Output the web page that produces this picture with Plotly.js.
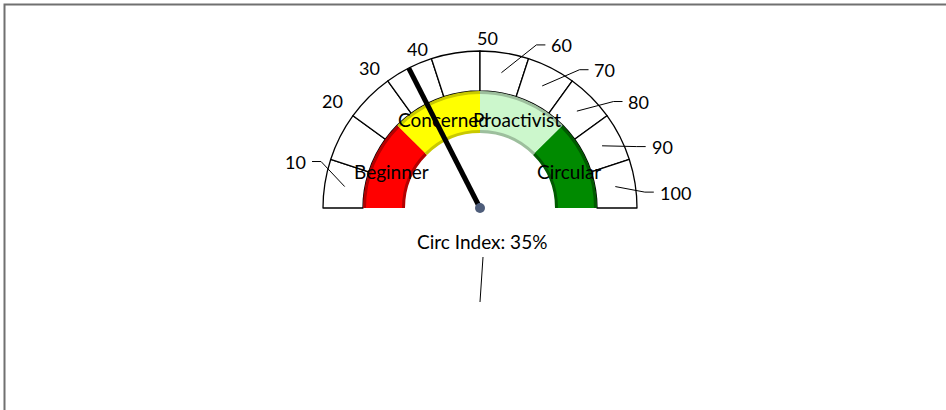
<!DOCTYPE html>
<html><head><meta charset="utf-8">
<script src="https://cdn.plot.ly/plotly-3.0.1.min.js"></script>
<style>html,body{margin:0;padding:0;background:#fff}#chart{width:946px;height:410px}</style>
</head><body><div id="chart"></div>
<script>
// ---------- data ----------
const scaleTicks = [10, 20, 30, 40, 50, 60, 70, 80, 90, 100];
const scaleSteps = [10, 10, 10, 10, 10, 10, 10, 10, 10, 10];
const bandNames  = ['Beginner', 'Concerned', 'Proactivist', 'Circular'];
const bandSizes  = [25, 25, 25, 25];
const indexValue = 35;
const indexLabel = 'Circ Index: 35%';

// ---------- layout / style ----------
const W = 946, H = 410, CX = 480, CY = 208;      // gauge centre (px from left / top)
const R_OUT = 157, R_MID = 117, R_IN = 75;
const FONT = 'Lato, "Open Sans", sans-serif';
const NUM_SIZE = 18, TXT_SIZE = 19;
const bandColors = ['#FF0000', '#FFFF00', '#CCF7CC', '#008A00'];
const bandEdge   = ['#B40000', '#C9C900', '#9DBF9D', '#005A00'];
// outer label placement: [angle deg, radius px], leader flag
const tickPlace  = [[166,190],[144,182],[128.2,178],[111.6,171],[87.6,170],[63.3,182],[47.8,186],[33.7,191],[18.5,192],[4.5,196]];
const tickLeader = [1,0,0,0,0,1,1,1,1,1];

const total = scaleSteps.reduce((a,b)=>a+b,0);
const ang = v => Math.PI * (1 - v / total);
const pt = (v, r) => [r * Math.cos(ang(v)), r * Math.sin(ang(v))];
const dom = r => ({x: [(CX - r) / W, (CX + r) / W], y: [(H - CY - r) / H, (H - CY + r) / H]});

const bandTotal = bandSizes.reduce((a,b)=>a+b,0);

const traces = [
  { // outer white scale ring
    type: 'pie', sort: false, direction: 'clockwise', rotation: 270,
    values: scaleSteps.concat([total]),
    labels: scaleTicks.map(String).concat(['hidden']),
    hole: R_MID / R_OUT, domain: dom(R_OUT), textinfo: 'none', hoverinfo: 'skip', showlegend: false,
    marker: {colors: scaleSteps.map(()=>'#FFFFFF').concat(['rgba(0,0,0,0)']),
             line: {color: scaleSteps.map(()=>'#000000').concat(['rgba(0,0,0,0)']),
                    width: scaleSteps.map(()=>1.3).concat([0])}}
  },
  { // coloured band base (bevel edge)
    type: 'pie', sort: false, direction: 'clockwise', rotation: 270,
    values: bandSizes.concat([bandTotal]), labels: bandNames.concat(['hidden']),
    hole: R_IN / R_MID, domain: dom(R_MID), textinfo: 'none', hoverinfo: 'skip', showlegend: false,
    marker: {colors: bandEdge.concat(['rgba(0,0,0,0)']), line: {width: 0}}
  },
  { // coloured band face
    type: 'pie', sort: false, direction: 'clockwise', rotation: 270,
    values: bandSizes.concat([bandTotal]), labels: bandNames.concat(['hidden']),
    hole: (R_IN + 3) / (R_MID - 3), domain: dom(R_MID - 3), textinfo: 'none', hoverinfo: 'skip', showlegend: false,
    marker: {colors: bandColors.concat(['rgba(0,0,0,0)']), line: {width: 0}}
  },
  {type: 'scatter', x: [0], y: [0], mode: 'markers', marker: {opacity: 0}, hoverinfo: 'skip', showlegend: false}
];

const shapes = [];
const annotations = [];

// frame
shapes.push({type: 'rect', xref: 'paper', yref: 'paper', x0: 4.5 / W, x1: 1.2, y0: -0.2, y1: (H - 4.5) / H,
             line: {color: '#707070', width: 2}, fillcolor: 'rgba(0,0,0,0)', layer: 'above'});

// outer tick labels + leader lines
let cum = 0;
scaleTicks.forEach((t, i) => {
  const mid = cum + scaleSteps[i] / 2;
  cum += scaleSteps[i];
  const a = tickPlace[i][0] * Math.PI / 180, r = tickPlace[i][1];
  const lx = r * Math.cos(a), ly = r * Math.sin(a);
  annotations.push({x: lx, y: ly, xref: 'x', yref: 'y', text: String(t), showarrow: false,
                    xanchor: 'center', yanchor: 'middle', font: {family: FONT, size: NUM_SIZE, color: '#000'}});
  if (tickLeader[i]) {
    const hw = String(t).length * 5.2;
    const side = lx < 0 ? 1 : -1;
    const sx = lx + side * (hw + 6);
    const ex = sx + side * 9;
    const m = pt(mid, (R_OUT + R_MID) / 2);
    shapes.push({type: 'path', xref: 'x', yref: 'y', layer: 'above',
                 path: `M ${sx} ${ly + 0.5} L ${ex} ${ly + 0.5} L ${m[0]} ${m[1]}`,
                 line: {color: '#000', width: 1}});
  }
});

// band labels
let bc = 0;
bandNames.forEach((n, i) => {
  const mid = (bc + bandSizes[i] / 2) / bandTotal * total;
  bc += bandSizes[i];
  const p = pt(mid, (R_IN + R_MID) / 2);
  annotations.push({x: p[0], y: p[1], xref: 'x', yref: 'y', text: n, showarrow: false,
                    xanchor: 'center', yanchor: 'middle', font: {family: FONT, size: TXT_SIZE, color: '#000'}});
});

// needle
const tip = pt(indexValue, R_OUT);
shapes.push({type: 'line', xref: 'x', yref: 'y', x0: 0, y0: 0, x1: tip[0], y1: tip[1],
             line: {color: '#000', width: 5}, layer: 'above'});
shapes.push({type: 'circle', xref: 'x', yref: 'y', x0: -5, y0: -5, x1: 5, y1: 5,
             fillcolor: '#4E5D7A', line: {width: 0}, layer: 'above'});

// index label
annotations.push({x: 2, y: -33, xref: 'x', yref: 'y', text: indexLabel, showarrow: false,
                  xanchor: 'center', yanchor: 'middle', font: {family: FONT, size: TXT_SIZE, color: '#000'}});
shapes.push({type: 'line', xref: 'x', yref: 'y', x0: 3, y0: -49, x1: 0, y1: -94,
             line: {color: '#000', width: 1}, layer: 'above'});

const layout = {
  width: W, height: H, margin: {l: 0, r: 0, t: 0, b: 0},
  paper_bgcolor: '#fff', plot_bgcolor: 'rgba(0,0,0,0)', showlegend: false,
  xaxis: {range: [-CX, W - CX], visible: false, fixedrange: true, showgrid: false, zeroline: false},
  yaxis: {range: [-(H - CY), CY], visible: false, fixedrange: true, showgrid: false, zeroline: false},
  shapes: shapes, annotations: annotations
};
Plotly.newPlot('chart', traces, layout, {staticPlot: true});
</script></body></html>
